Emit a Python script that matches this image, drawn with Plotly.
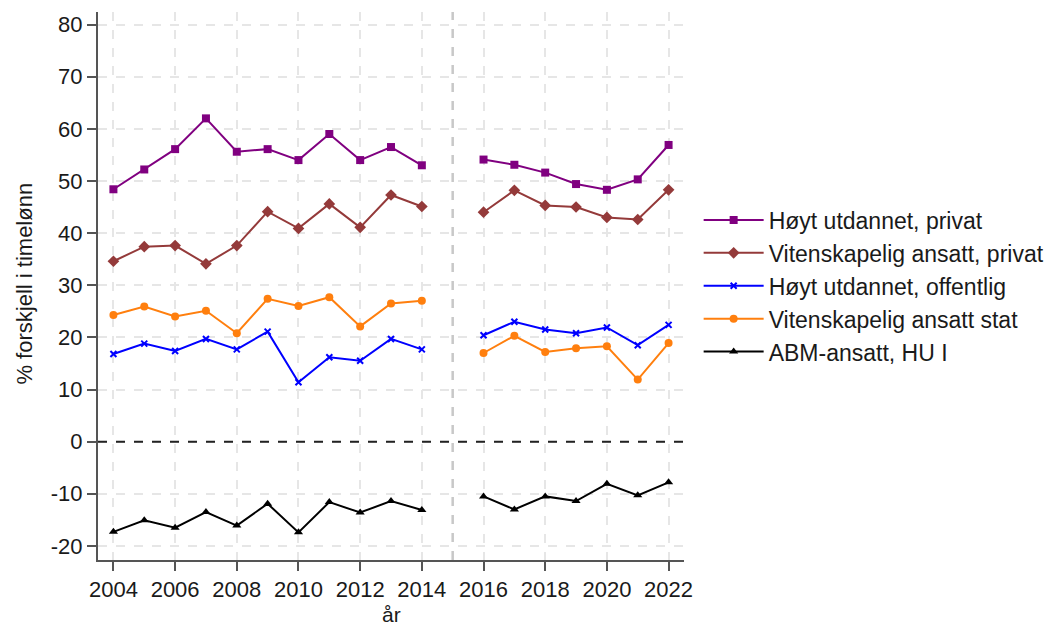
import plotly.graph_objects as go

years = [2004, 2005, 2006, 2007, 2008, 2009, 2010, 2011, 2012, 2013, 2014,
         2015, 2016, 2017, 2018, 2019, 2020, 2021, 2022]

hoyt_privat = [48.4, 52.2, 56.1, 62.0, 55.6, 56.1, 54.0, 59.0, 54.0, 56.5, 53.0,
               None, 54.1, 53.1, 51.6, 49.4, 48.3, 50.3, 56.9]
viten_privat = [34.6, 37.4, 37.6, 34.1, 37.6, 44.1, 40.9, 45.6, 41.1, 47.3, 45.1,
                None, 44.0, 48.2, 45.3, 45.0, 43.0, 42.6, 48.3]
hoyt_offentlig = [16.8, 18.8, 17.4, 19.7, 17.7, 21.1, 11.4, 16.2, 15.5, 19.7, 17.7,
                  None, 20.4, 23.0, 21.5, 20.8, 21.9, 18.5, 22.4]
viten_stat = [24.3, 25.9, 24.0, 25.1, 20.8, 27.4, 26.0, 27.7, 22.1, 26.5, 27.0,
              None, 17.0, 20.3, 17.2, 17.9, 18.3, 11.9, 18.9]
abm_hu = [-17.3, -15.1, -16.5, -13.5, -16.1, -11.9, -17.4, -11.6, -13.6, -11.4, -13.1,
          None, -10.5, -13.0, -10.5, -11.4, -8.1, -10.3, -7.8]

series = [
    ("Høyt utdannet, privat", hoyt_privat, "#800080", "square", 8),
    ("Vitenskapelig ansatt, privat", viten_privat, "#943a3a", "diamond", 9),
    ("Høyt utdannet, offentlig", hoyt_offentlig, "#0000ff", "x-thin-open", 6),
    ("Vitenskapelig ansatt stat", viten_stat, "#ff7f0e", "circle", 8),
    ("ABM-ansatt, HU I", abm_hu, "#000000", "triangle-up", 8),
]

tick_years = [2004, 2006, 2008, 2010, 2012, 2014, 2016, 2018, 2020, 2022]
y_ticks = [-20, -10, 0, 10, 20, 30, 40, 50, 60, 70, 80]

fig = go.Figure()
for name, vals, color, sym, size in series:
    fig.add_trace(go.Scatter(
        x=years, y=vals, name=name, mode="lines+markers",
        connectgaps=False,
        line=dict(color=color, width=2),
        marker=dict(symbol=sym, size=size, color=color,
                    line=dict(color=color, width=2 if sym.startswith("x") else 0)),
    ))

fig.add_shape(type="line", xref="paper", x0=0, x1=1, yref="y", y0=0, y1=0,
              line=dict(color="#222222", width=2, dash="dash"), layer="above")
fig.add_shape(type="line", xref="x", x0=2015, x1=2015, yref="paper", y0=0, y1=1,
              line=dict(color="#c8c8c8", width=2.5, dash="dash"), layer="above")

font_family = "Liberation Sans, Arial, sans-serif"
fig.add_annotation(text="% forskjell i timelønn", xref="paper", yref="paper",
                   x=-0.125, y=0.504, xanchor="center", yanchor="middle",
                   textangle=-90, showarrow=False, font=dict(size=22, color="#1a1a1a"))
fig.add_annotation(text="år", xref="paper", yref="paper",
                   x=0.5, y=-0.1, xanchor="center", yanchor="middle",
                   showarrow=False, font=dict(size=21, color="#1a1a1a"))

fig.update_layout(
    width=1044, height=619,
    margin=dict(l=90, r=368, t=4, b=67, autoexpand=False),
    paper_bgcolor="white", plot_bgcolor="white",
    font=dict(family=font_family, size=22, color="#1a1a1a"),
    showlegend=True,
    legend=dict(x=1.025, xanchor="left", y=0.5, yanchor="middle",
                font=dict(size=23, color="#1a1a1a"), bgcolor="rgba(0,0,0,0)",
                itemwidth=60, tracegroupgap=0),
    xaxis=dict(range=[2003.5, 2022.5], tickmode="array", tickvals=tick_years,
               ticktext=[str(t) for t in tick_years], automargin=False,
               showline=True, linecolor="#555555", linewidth=2,
               ticks="outside", ticklen=9, tickwidth=1.5, tickcolor="#555555",
               showgrid=True, gridcolor="#e6e6e6", griddash="dash", gridwidth=1.5,
               zeroline=False, tickfont=dict(size=22)),
    yaxis=dict(range=[-22.7, 82.4], tickmode="array", tickvals=y_ticks,
               ticktext=[str(t) for t in y_ticks], automargin=False,
               showline=True, linecolor="#555555", linewidth=2,
               ticks="outside", ticklen=9, tickwidth=1.5, tickcolor="#555555",
               showgrid=True, gridcolor="#e6e6e6", griddash="dash", gridwidth=1.5,
               zeroline=False, tickfont=dict(size=22)),
)

fig.write_html("out.html")
